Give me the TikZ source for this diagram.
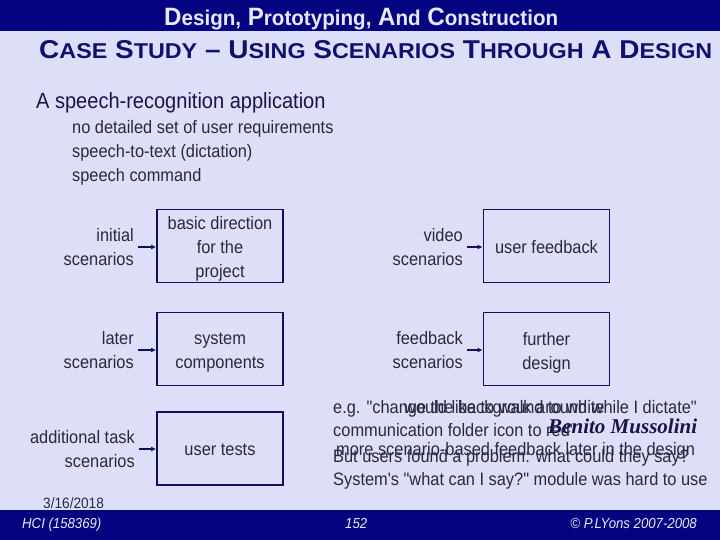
\documentclass[tikz,border=0pt]{standalone}
\usepackage{fontspec}
\setmainfont{Liberation Sans}
\usetikzlibrary{arrows.meta}
\newfontfamily\bodyf[FakeStretch=0.91]{Liberation Sans}
\newfontfamily\headf[FakeStretch=0.85]{Liberation Sans}
\newfontfamily\subf{Liberation Sans}
\newfontfamily\scriptf{Liberation Serif}
\newcommand\mysc[1]{{\fontsize{20}{20}\selectfont #1}}
\newcommand\mytsc[1]{{\fontsize{20.5}{20.5}\selectfont #1}}
\definecolor{bg}{RGB}{221,223,249}
\definecolor{navy}{RGB}{4,4,128}
\definecolor{boxline}{RGB}{18,18,92}
\definecolor{headtxt}{RGB}{22,22,70}
\definecolor{bodytxt}{RGB}{40,40,62}
\definecolor{titletxt}{RGB}{232,232,250}
\definecolor{subtxt}{RGB}{16,16,110}
\begin{document}
\begin{tikzpicture}[x=1pt,y=-1pt,
  bodyfont/.style={font=\bodyf\fontsize{18}{24}\selectfont, text=bodytxt},
  plain/.style={bodyfont, inner sep=0pt},
  boxn/.style={draw=boxline, line width=1.8pt, minimum width=126pt, minimum height=73pt, inner sep=0pt},
  boxtext/.style={bodyfont, align=center, inner sep=0pt},
  lbl/.style={bodyfont, align=right, inner xsep=4pt, inner ysep=0pt},
  arr/.style={draw=boxline, line width=1.8pt, -{Latex[length=5pt,width=5pt]}},
  foot/.style={font=\bodyf\itshape\fontsize{14.5}{14.5}\selectfont, text=titletxt, inner sep=0pt}]
\fill[bg] (0,0) rectangle (720,540);
\useasboundingbox (0,0) rectangle (720,540);
\fill[navy] (0,0) rectangle (720,31);
\fill[navy] (0,510) rectangle (720,540);

% titles
\node[anchor=base west, text=titletxt, inner sep=0pt] (title) at (164,26)
  {\resizebox{394pt}{17.5pt}{\headf\bfseries\fontsize{24}{24}\selectfont D\mytsc{esign,} P\mytsc{rototyping,} A\mytsc{nd} C\mytsc{onstruction}}};
\node[anchor=base west, text=subtxt, inner sep=0pt] (subtitle) at (39,59)
  {\resizebox{673pt}{18pt}{\subf\bfseries\fontsize{24}{24}\selectfont C\mysc{ASE} S\mysc{TUDY} – U\mysc{SING} S\mysc{CENARIOS} T\mysc{HROUGH} A D\mysc{ESIGN}}};

% bullets
\node[anchor=base west, inner sep=0pt, text=headtxt, font=\bodyf\fontsize{22}{22}\selectfont] (head) at (36,109) {A speech-recognition application};
\node[plain, anchor=base west] (i1) at (72,134) {no detailed set of user requirements};
\node[plain, anchor=base west] (i2) at (72,158) {speech-to-text (dictation)};
\node[plain, anchor=base west] (i3) at (72,182) {speech command};

% boxes
\node[boxn] (b1) at (220,246) {};
\node[boxn] (b2) at (220,349) {};
\node[boxn] (b3) at (220,448.5) {};
\node[boxn] (b4) at (546.5,246) {};
\node[boxn] (b5) at (546.5,349) {};
\node[boxtext] (t1) at ([yshift=-3pt]b1.center) {basic direction\\for the\\project};
\node[boxtext] (t2) at ([yshift=-4pt]b2.center) {system\\components};
\node[boxtext] (t3) at ([yshift=-1.5pt]b3.center) {user tests};
\node[boxtext] (t4) at ([yshift=-1pt]b4.center) {user feedback};
\node[boxtext] (t5) at ([yshift=-4pt]b5.center) {further\\design};

% labels
\node[lbl, anchor=east] (l1) at (138,247) {initial\\scenarios};
\node[lbl, anchor=east] (l2) at (138,350) {later\\scenarios};
\node[lbl, anchor=east] (l3) at (139,449) {additional task\\scenarios};
\node[lbl, anchor=east] (l4) at (467,247) {video\\scenarios};
\node[lbl, anchor=east] (l5) at (467,350) {feedback\\scenarios};

\draw[arr] (l1.east) -- (l1.east -| b1.west);
\draw[arr] (l2.east) -- (l2.east -| b2.west);
\draw[arr] (l3.east) -- (l3.east -| b3.west);
\draw[arr] (l4.east) -- (l4.east -| b4.west);
\draw[arr] (l5.east) -- (l5.east -| b5.west);

% overlaid notes
\node[plain, anchor=base west] (n1a) at (333,413) {e.g. "change the background to white};
\node[plain, anchor=base west] (n1b) at (404,413) {would like to walk around while I dictate"};
\node[plain, anchor=base west] (n2) at (333,436) {communication folder icon to red"};
\node[anchor=base west, inner sep=0pt, text=headtxt] (n2b) at (548,433)
  {\resizebox{149pt}{!}{\scriptf\itshape\bfseries\fontsize{20}{20}\selectfont Benito Mussolini}};
\node[plain, anchor=base west] (n3a) at (336,455) {more scenario-based feedback later in the design};
\node[plain, anchor=base west] (n3b) at (333,462) {But users found a problem: what could they say?};
\node[plain, anchor=base west] (n4) at (333,485) {System's "what can I say?" module was hard to use};

% footer
\node[anchor=base west, inner sep=0pt, text=bodytxt, font=\bodyf\fontsize{15}{15}\selectfont] (date) at (43,508) {3/16/2018};
\node[foot, anchor=base west] (f1) at (22,528) {HCI (158369)};
\node[foot, anchor=base west] (f2) at (345,528) {152};
\node[foot, anchor=base east] (f3) at (697,528) {\char"00A9\ P.LYons 2007-2008};
\end{tikzpicture}
\end{document}
